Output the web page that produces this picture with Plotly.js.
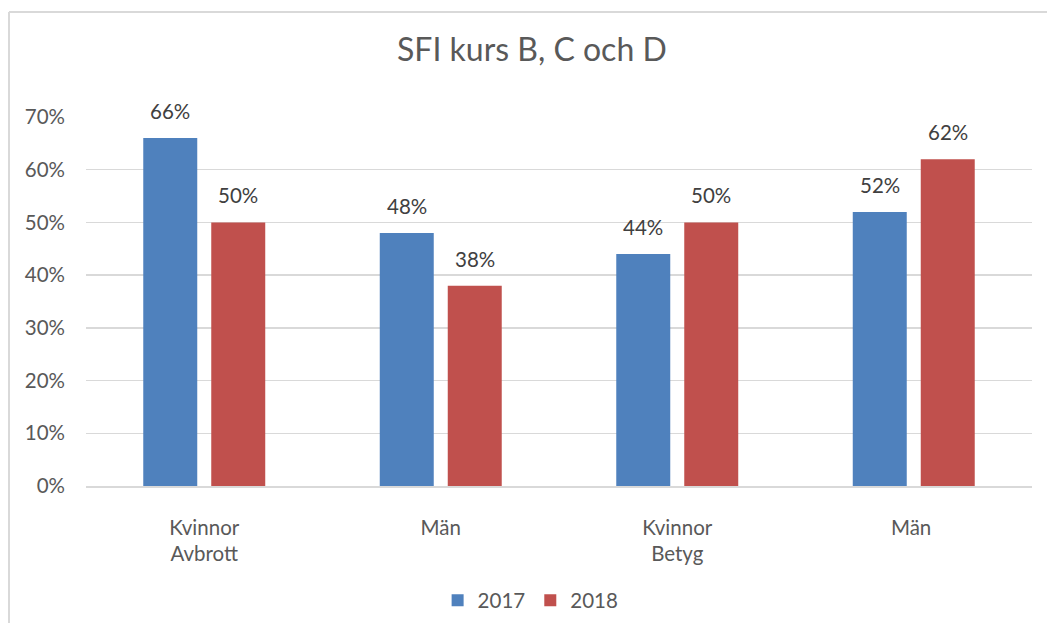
<!DOCTYPE html>
<html>
<head>
<meta charset="utf-8">
<script src="https://cdn.plot.ly/plotly-3.0.1.min.js"></script>
<style>
  html, body { margin: 0; padding: 0; background: #fff; }
  #chart { width: 1047px; height: 623px; }
</style>
</head>
<body>
<div id="chart"></div>
<script>
const categories = ["Kvinnor<br>Avbrott", "Män", "Kvinnor<br>Betyg", "Män "];
const series2017 = [0.66, 0.48, 0.44, 0.52];
const series2018 = [0.50, 0.38, 0.50, 0.62];
const seriesNames = ["2017", "2018"];
const yTicks = [0, 0.1, 0.2, 0.3, 0.4, 0.5, 0.6, 0.7];
const yTickText = ["0%", "10%", "20%", "30%", "40%", "50%", "60%", "70%"];

const FONT = "Lato, 'Open Sans', 'Liberation Sans', sans-serif";
const LABEL_FONT = { family: FONT, size: 20.5, color: "#404040" };

function pct(v) { return Math.round(v * 100) + "%"; }

const traces = [
  { type: "bar", name: seriesNames[0], x: categories, y: series2017,
    marker: { color: "#4f81bd" }, hoverinfo: "none" },
  { type: "bar", name: seriesNames[1], x: categories, y: series2018,
    marker: { color: "#c0504d" }, hoverinfo: "none" }
];

// data labels placed above each bar (offset = half a bar slot left/right of category centre)
const annotations = [];
[series2017, series2018].forEach((ser, si) => {
  ser.forEach((v, i) => {
    annotations.push({
      x: categories[i], y: v, xref: "x", yref: "y", text: pct(v), showarrow: false,
      xshift: si === 0 ? -34 : 34, yshift: 27, yanchor: "middle", xanchor: "center",
      font: LABEL_FONT
    });
  });
});

const layout = {
  width: 1047, height: 623,
  margin: { l: 86, r: 15, t: 117, b: 137, autoexpand: false },
  paper_bgcolor: "#ffffff", plot_bgcolor: "#ffffff",
  font: { family: FONT, color: "#595959", size: 20.5 },
  title: { text: "SFI kurs B, C och D", font: { family: FONT, size: 32, color: "#595959" },
           x: 0.508, xanchor: "center", y: 0.92, yanchor: "middle" },
  barmode: "group", bargap: 0.425, bargroupgap: 0.206,
  showlegend: true,
  legend: { orientation: "h", x: 0.47, xanchor: "center", y: -0.31, yanchor: "middle",
            font: { family: FONT, size: 20.5, color: "#595959" }, traceorder: "normal",
            itemwidth: 30 },
  xaxis: { type: "category", showgrid: false, showline: true, linecolor: "#d9d9d9", linewidth: 2,
           ticks: "", ticklabelstandoff: 22, tickfont: { family: FONT, size: 20.5, color: "#595959" },
           fixedrange: true, automargin: false },
  yaxis: { range: [0, 0.7], tickvals: yTicks, ticktext: yTickText, showgrid: true,
           gridcolor: "#d9d9d9", gridwidth: 1.5, zeroline: false, showline: false, ticks: "",
           ticklabelstandoff: 20, tickfont: { family: FONT, size: 20.5, color: "#595959" },
           fixedrange: true, automargin: false },
  annotations: annotations,
  shapes: [
    { type: "line", xref: "paper", yref: "paper", x0: -0.0814, x1: -0.0814, y0: -0.5, y1: 1.2846,
      line: { color: "#d9d9d9", width: 2 } },
    { type: "line", xref: "paper", yref: "paper", x0: -0.0814, x1: 1.1, y0: 1.2846, y1: 1.2846,
      line: { color: "#d9d9d9", width: 2 } }
  ]
};

Plotly.newPlot("chart", traces, layout, { displayModeBar: false, staticPlot: true });
</script>
</body>
</html>
